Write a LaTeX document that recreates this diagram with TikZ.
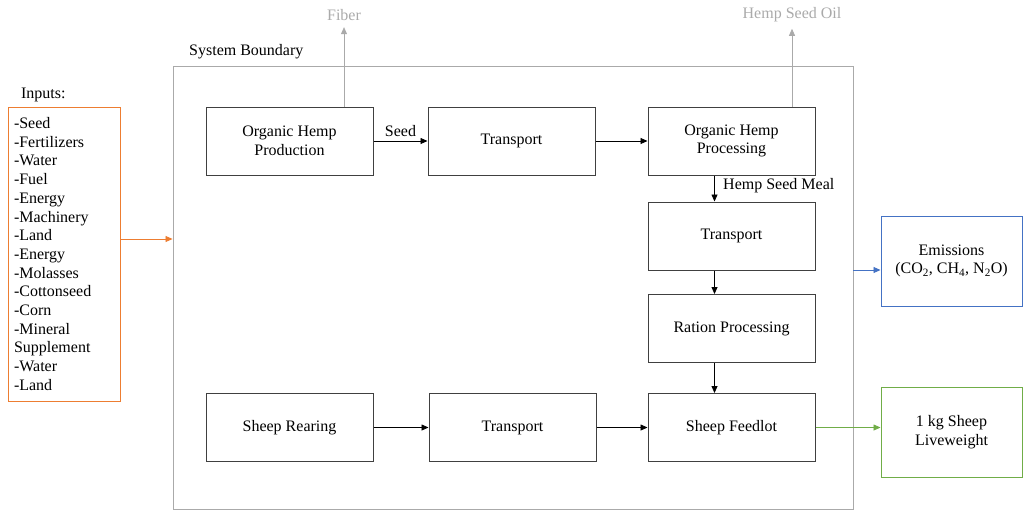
\documentclass[tikz,border=0pt]{standalone}
\usepackage{fontspec}
\setmainfont{Liberation Serif}
\usetikzlibrary{arrows.meta, positioning}

\definecolor{boundgray}{RGB}{170,170,170}
\definecolor{inorange}{RGB}{237,125,49}
\definecolor{emblue}{RGB}{68,114,196}
\definecolor{lwgreen}{RGB}{112,173,71}

\begin{document}
\begin{tikzpicture}[
        x=1pt, y=-1pt,
        font=\fontsize{16}{18.7}\selectfont,
        block/.style={draw=black!75, line width=1pt, minimum width=167pt, minimum height=68pt, align=center, inner sep=2pt},
        sidebox/.style={draw, line width=1pt, minimum width=141pt, minimum height=90pt, align=center},
        flow/.style={-{Triangle[length=7pt,width=6pt]}, line width=0.8pt},
        outflow/.style={-{Triangle[length=7pt,width=6pt]}, line width=0.8pt, boundgray}
    ]
        \useasboundingbox (0,0) rectangle (1024,514);

        % Systemgrenze
        \node[draw=boundgray, line width=0.9pt, minimum width=680pt, minimum height=443pt] (bound) at (513,287.5) {};
        \node[anchor=south west, inner sep=2pt] (boundlbl) at (187,61) {System Boundary};

        % Hanf-Kette
        \node[block] (prod) at (289.5,141) {Organic Hemp\\Production};
        \node[block] (trans1) at (511.5,141) {Transport};
        \node[block] (proc) at (731.5,141) {Organic Hemp\\Processing};
        \node[block] (trans2) at (731.5,236) {Transport};
        \node[block] (ration) at (731.5,328.5) {Ration Processing};

        % Schaf-Kette
        \node[block] (rear) at (289.5,427.5) {Sheep Rearing};
        \node[block] (trans3) at (512.5,427.5) {Transport};
        \node[block] (feed) at (731.5,427.5) {Sheep Feedlot};

        % Ausgaben oben
        \node[text=boundgray] (fiber) at (344,15) {Fiber};
        \node[text=boundgray] (oil) at (792,15) {Hemp Seed Oil};

        % Eingaben und Ergebnisse
        \node[draw=inorange, line width=1pt, minimum width=112pt, minimum height=294pt, text width=100pt, align=left, inner sep=0pt] (inputs) at (64,254)
            {-Seed\\-Fertilizers\\-Water\\-Fuel\\-Energy\\-Machinery\\-Land\\-Energy\\-Molasses\\-Cottonseed\\-Corn\\-Mineral\\Supplement\\-Water\\-Land};
        \node[above=1pt of inputs.north west, anchor=south west, xshift=10pt] (inlbl) {Inputs:};
        \node[sidebox, draw=emblue] (emis) at (951.5,261) {Emissions\\(CO\textsubscript{2}, CH\textsubscript{4}, N\textsubscript{2}O)};
        \node[sidebox, draw=lwgreen] (live) at (951.5,432) {1 kg Sheep\\Liveweight};

        \coordinate (inout) at ([yshift=15pt]inputs.east);
        \coordinate (emin) at ([yshift=-9pt]emis.west);

        % Pfeile
        \draw[flow] (prod.east) -- node[above, yshift=1pt] (seedlbl) {Seed} (trans1.west);
        \draw[flow] (trans1.east) -- (proc.west);
        \draw[flow] ([xshift=-17pt]proc.south) -- ([xshift=-17pt]trans2.north)
            node[pos=0.4, right=5pt] (meallbl) {Hemp Seed Meal};
        \draw[flow] ([xshift=-17pt]trans2.south) -- ([xshift=-17pt]ration.north);
        \draw[flow] ([xshift=-17pt]ration.south) -- ([xshift=-17pt]feed.north);
        \draw[flow] (rear.east) -- (trans3.west);
        \draw[flow] (trans3.east) -- (feed.west);

        \draw[outflow] ([xshift=54.5pt]prod.north) -- ([yshift=-3pt]fiber.south);
        \draw[outflow] ([xshift=60.5pt]proc.north) -- ([yshift=-3pt]oil.south);

        \draw[-{Triangle[length=7pt,width=6pt]}, line width=0.8pt, inorange] (inout) -- (bound.west |- inout);
        \draw[-{Triangle[length=7pt,width=6pt]}, line width=0.8pt, emblue] (bound.east |- emin) -- (emin);
        \draw[-{Triangle[length=7pt,width=6pt]}, line width=0.8pt, lwgreen] (feed.east) -- (live.west |- feed.east);
    \end{tikzpicture}
\end{document}
